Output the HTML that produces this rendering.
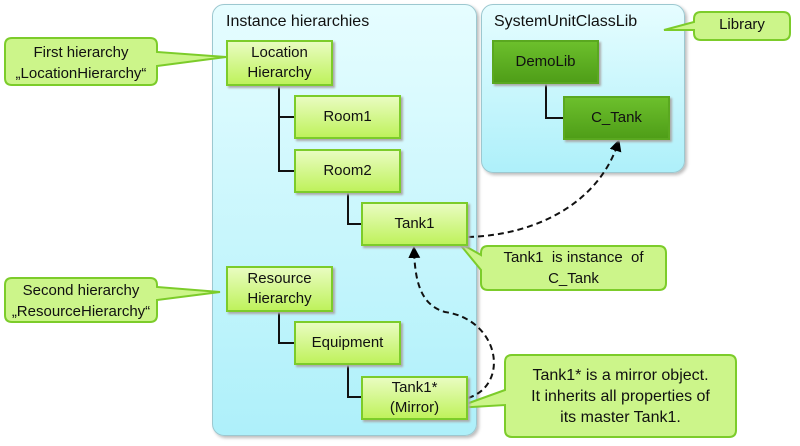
<!DOCTYPE html><html><head><style>
body{margin:0;width:800px;height:446px;background:#fff;font-family:"Liberation Sans",sans-serif;position:relative;overflow:hidden}
.p{position:absolute;border:1.5px solid #9cc8d0;border-radius:12px;background:linear-gradient(#e6fdff,#aef0fa);box-shadow:2px 2px 3px #bbb}
.b{position:absolute;box-sizing:border-box;border:2px solid #7ccc2a;background:linear-gradient(#e9fcc0,#bff25c);display:flex;align-items:center;justify-content:center;text-align:center;font-size:15px;line-height:20px;color:#111;box-shadow:2px 2px 2px #aaa}
.d{background:linear-gradient(#6cbf2c,#4f9e18);border-color:#5aa820}
.t{position:absolute;font-size:15px;color:#111}
</style></head><body>
<div class="p" style="left:212px;top:4px;width:263px;height:430px"></div>
<div class="p" style="left:481px;top:4px;width:202px;height:167px"></div>
<div class="t" style="left:226px;top:13px;font-size:16px">Instance hierarchies</div>
<div class="t" style="left:494px;top:13px;font-size:16px">SystemUnitClassLib</div>
<svg style="position:absolute;left:0;top:0" width="800" height="446">
<defs><marker id="a" markerWidth="6" markerHeight="6" refX="4" refY="3" orient="auto"><path d="M0,0L6,3L0,6z" fill="#000"/></marker></defs>
<g fill="#ccf58a" stroke="#7ccc2a" stroke-width="2">
<path d="M12,38H150Q157,38 157,45V52L226,57L157,66V78Q157,85 150,85H12Q5,85 5,78V45Q5,38 12,38Z"/>
<path d="M12,278H150Q157,278 157,285V287L220,292L157,300V315Q157,322 150,322H12Q5,322 5,315V285Q5,278 12,278Z"/>
<path d="M701,12H783Q790,12 790,19V33Q790,40 783,40H701Q694,40 694,33V30L664,30L694,22V19Q694,12 701,12Z"/>
<path d="M488,246H659Q666,246 666,253V283Q666,290 659,290H488Q481,290 481,283V270L458,242L481,255V253Q481,246 488,246Z"/>
<path d="M512,355H729Q736,355 736,362V430Q736,437 729,437H512Q505,437 505,430V405L455,408L505,390V362Q505,355 512,355Z"/>
</g>
<g stroke="#111" stroke-width="2" fill="none">
<path d="M279,86V172M279,117H294M279,171H294M348,192V224H361M279,312V343H294M348,364V397H361M546,84V118H563"/>
</g>
<g stroke="#111" stroke-width="2" fill="none" stroke-dasharray="6,4">
<path d="M468,237C540,235 600,200 618,143" marker-end="url(#a)"/>
<path d="M468,398C510,385 500,320 445,312C420,305 415,280 414,250" marker-end="url(#a)"/>
</g>
</svg>
<div class="t" style="left:5px;top:42px;width:152px;text-align:center;line-height:21px">First hierarchy<br>„LocationHierarchy“</div>
<div class="t" style="left:5px;top:280px;width:152px;text-align:center;line-height:21px">Second hierarchy<br>„ResourceHierarchy“</div>
<div class="t" style="left:694px;top:16px;width:96px;text-align:center">Library</div>
<div class="t" style="left:481px;top:247px;width:185px;text-align:center;line-height:21px">Tank1&nbsp; is instance&nbsp; of<br>C_Tank</div>
<div class="t" style="left:505px;top:365px;width:231px;text-align:center;font-size:16px;line-height:21px">Tank1* is a mirror object.<br>It inherits all properties of<br>its master Tank1.</div>
<div class="b" style="left:226px;top:40px;width:107px;height:46px">Location<br>Hierarchy</div>
<div class="b" style="left:294px;top:95px;width:107px;height:44px">Room1</div>
<div class="b" style="left:294px;top:149px;width:107px;height:44px">Room2</div>
<div class="b" style="left:361px;top:202px;width:107px;height:44px">Tank1</div>
<div class="b" style="left:226px;top:266px;width:107px;height:46px">Resource<br>Hierarchy</div>
<div class="b" style="left:294px;top:321px;width:107px;height:44px">Equipment</div>
<div class="b" style="left:361px;top:376px;width:107px;height:44px">Tank1*<br>(Mirror)</div>
<div class="b d" style="left:492px;top:40px;width:107px;height:44px">DemoLib</div>
<div class="b d" style="left:563px;top:96px;width:107px;height:44px">C_Tank</div>
</body></html>
